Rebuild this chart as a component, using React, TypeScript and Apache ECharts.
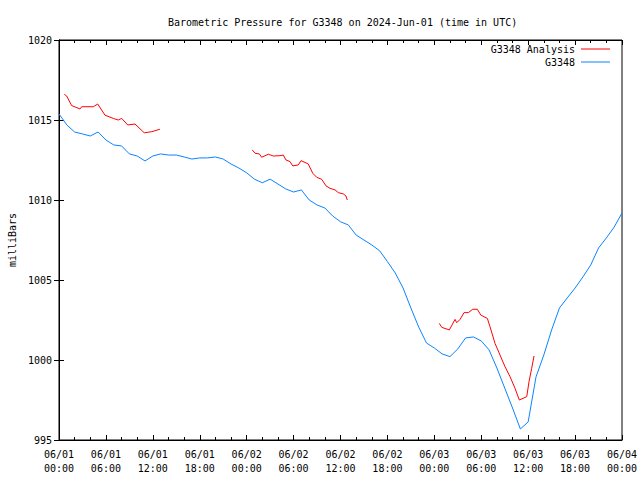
import React, { useEffect, useRef } from "react";
import * as echarts from "echarts";

// Hours since 2024-06-01 00:00 UTC
const stationHours: number[] = Array.from({ length: 73 }, (_, i) => i);
const stationValues: number[] = [
  1015.38, 1014.69, 1014.25, 1014.13, 1014.0, 1014.25, 1013.75, 1013.44, 1013.38, 1012.88,
  1012.75, 1012.44, 1012.75, 1012.88, 1012.81, 1012.81, 1012.69, 1012.56, 1012.63, 1012.63,
  1012.69, 1012.56, 1012.25, 1012.0, 1011.7, 1011.3, 1011.08, 1011.3, 1011.0, 1010.69,
  1010.5, 1010.63, 1010.0, 1009.69, 1009.5, 1009.0, 1008.64, 1008.44, 1007.81, 1007.5,
  1007.19, 1006.83, 1006.15, 1005.44, 1004.5, 1003.25, 1002.06, 1001.06, 1000.75, 1000.38,
  1000.21, 1000.69, 1001.38, 1001.44, 1001.19, 1000.63, 999.5, 998.25, 997.0, 995.69,
  996.13, 998.94, 1000.31, 1001.88, 1003.25, 1003.88, 1004.5, 1005.19, 1005.94, 1007.0,
  1007.63, 1008.31, 1009.19,
];

const analysis1Hours: number[] = [0.68, 0.98, 1.62, 2.69, 2.9, 4.39, 4.95, 5.88, 6.94, 7.58, 8.02, 8.79, 9.72, 10.9, 11.86, 12.9];
const analysis1Values: number[] = [1016.6, 1016.5, 1015.9, 1015.69, 1015.83, 1015.83, 1016.0, 1015.3, 1015.1, 1015.0, 1015.1, 1014.69, 1014.75, 1014.2, 1014.27, 1014.42];

const analysis2Hours: number[] = [24.72, 25.07, 25.62, 25.92, 26.77, 27.41, 28.26, 28.69, 29.03, 29.54, 29.89, 30.6, 30.95, 31.88, 32.45, 32.96, 33.6, 34.15, 34.66, 35.3, 35.72, 36.36, 36.7, 36.87];
const analysis2Values: number[] = [1013.13, 1012.92, 1012.88, 1012.67, 1012.86, 1012.75, 1012.77, 1012.81, 1012.5, 1012.4, 1012.13, 1012.19, 1012.46, 1012.25, 1011.67, 1011.42, 1011.29, 1010.88, 1010.73, 1010.63, 1010.46, 1010.38, 1010.25, 1010.0];

const analysis3Hours: number[] = [48.64, 48.95, 49.92, 50.65, 50.86, 51.29, 51.8, 52.35, 52.91, 53.5, 53.94, 54.78, 55.12, 55.76, 56.4, 57.04, 57.68, 58.32, 58.87, 59.82, 60.11, 60.45, 60.75];
const analysis3Values: number[] = [1002.29, 1002.04, 1001.88, 1002.54, 1002.33, 1002.54, 1002.96, 1002.96, 1003.17, 1003.17, 1002.81, 1002.6, 1002.08, 1001.04, 1000.31, 999.58, 998.96, 998.23, 997.5, 997.71, 998.65, 999.48, 1000.25];

const seriesNames: string[] = ["G3348 Analysis", "G3348"];
const titleText = "Barometric Pressure for G3348 on 2024-Jun-01 (time in UTC)";
const yAxisName = "milliBars";

const FONT = "'DejaVu Sans Mono', 'Liberation Mono', monospace";
const RED = "#ff0000";
const BLUE = "#0a84ff";

const zip = (a: number[], b: number[]) => a.map((v, i) => [v, b[i]]);

const fmtTime = (h: number) => {
  const day = 1 + Math.floor(h / 24);
  const hr = Math.round(h % 24);
  const dd = String(day).padStart(2, "0");
  const hh = String(hr).padStart(2, "0");
  return `06/${dd}\n${hh}:00`;
};

export default function App() {
  const ref = useRef<HTMLDivElement>(null);
  useEffect(() => {
    if (!ref.current) return;
    const chart = echarts.init(ref.current, undefined, { renderer: "svg" });
    const xCommon = {
      type: "value" as const,
      min: 0,
      max: 72,
      interval: 6,
      splitLine: { show: false },
      axisLine: { show: true, lineStyle: { color: "#000", width: 1 } },
      axisTick: { show: true, inside: true, length: 5, lineStyle: { color: "#000" } },
      minorTick: { show: true, splitNumber: 3, length: 3, lineStyle: { color: "#000" } },
      minorSplitLine: { show: false },
    };
    const yCommon = {
      type: "value" as const,
      min: 995,
      max: 1020,
      interval: 5,
      splitLine: { show: false },
      axisLine: { show: true, lineStyle: { color: "#000", width: 1 } },
      axisTick: { show: true, inside: true, length: 5, lineStyle: { color: "#000" } },
    };
    const lineSeries = (name: string, data: number[][], color: string, xi = 0) => ({
      type: "line" as const,
      name,
      data,
      showSymbol: false,
      symbol: "none",
      lineStyle: { color, width: 1 },
      itemStyle: { color },
      xAxisIndex: xi,
      yAxisIndex: 0,
      silent: true,
    });
    chart.setOption({
      animation: false,
      backgroundColor: "#fff",
      title: {
        text: titleText,
        left: 163,
        top: 12,
        textStyle: { fontFamily: FONT, fontSize: 10, fontWeight: "normal", color: "#000" },
      },
      grid: {
        left: 59,
        right: 18,
        top: 40,
        bottom: 40,
        containLabel: false,
        outerBoundsMode: "none",
        show: true,
        borderColor: "#000",
        borderWidth: 1,
      },
      xAxis: [
        {
          ...xCommon,
          position: "bottom",
          axisLabel: {
            show: true,
            formatter: (v: number) => fmtTime(v),
            fontFamily: FONT,
            fontSize: 10,
            color: "#000",
            lineHeight: 14,
            margin: 7,
          },
        },
        { ...xCommon, position: "top", axisLabel: { show: false } },
      ],
      yAxis: [
        {
          ...yCommon,
          position: "left",
          name: yAxisName,
          nameLocation: "middle",
          nameRotate: 90,
          nameGap: 42,
          nameTextStyle: { fontFamily: FONT, fontSize: 10, color: "#000" },
          axisLabel: {
            show: true,
            formatter: (v: number) => String(v),
            fontFamily: FONT,
            fontSize: 10,
            color: "#000",
            margin: 7,
          },
        },
        { ...yCommon, position: "right", axisLabel: { show: false } },
      ],
      series: [
        lineSeries(seriesNames[0], zip(analysis1Hours, analysis1Values), RED),
        lineSeries(seriesNames[0], zip(analysis2Hours, analysis2Values), RED),
        lineSeries(seriesNames[0], zip(analysis3Hours, analysis3Values), RED),
        lineSeries(seriesNames[1], zip(stationHours, stationValues), BLUE),
      ],
      graphic: [
        {
          type: "text",
          x: 575,
          y: 49,
          style: { text: seriesNames[0], fontFamily: FONT, fontSize: 10, fill: "#000", align: "right", verticalAlign: "middle" },
        },
        { type: "line", shape: { x1: 581, y1: 49, x2: 610, y2: 49 }, style: { stroke: RED, lineWidth: 1 } },
        {
          type: "text",
          x: 575,
          y: 62,
          style: { text: seriesNames[1], fontFamily: FONT, fontSize: 10, fill: "#000", align: "right", verticalAlign: "middle" },
        },
        { type: "line", shape: { x1: 581, y1: 62, x2: 610, y2: 62 }, style: { stroke: BLUE, lineWidth: 1 } },
      ],
    });
    return () => chart.dispose();
  }, []);
  return <div ref={ref} style={{ position: "fixed", left: 0, top: 0, width: 640, height: 480 }} />;
}
